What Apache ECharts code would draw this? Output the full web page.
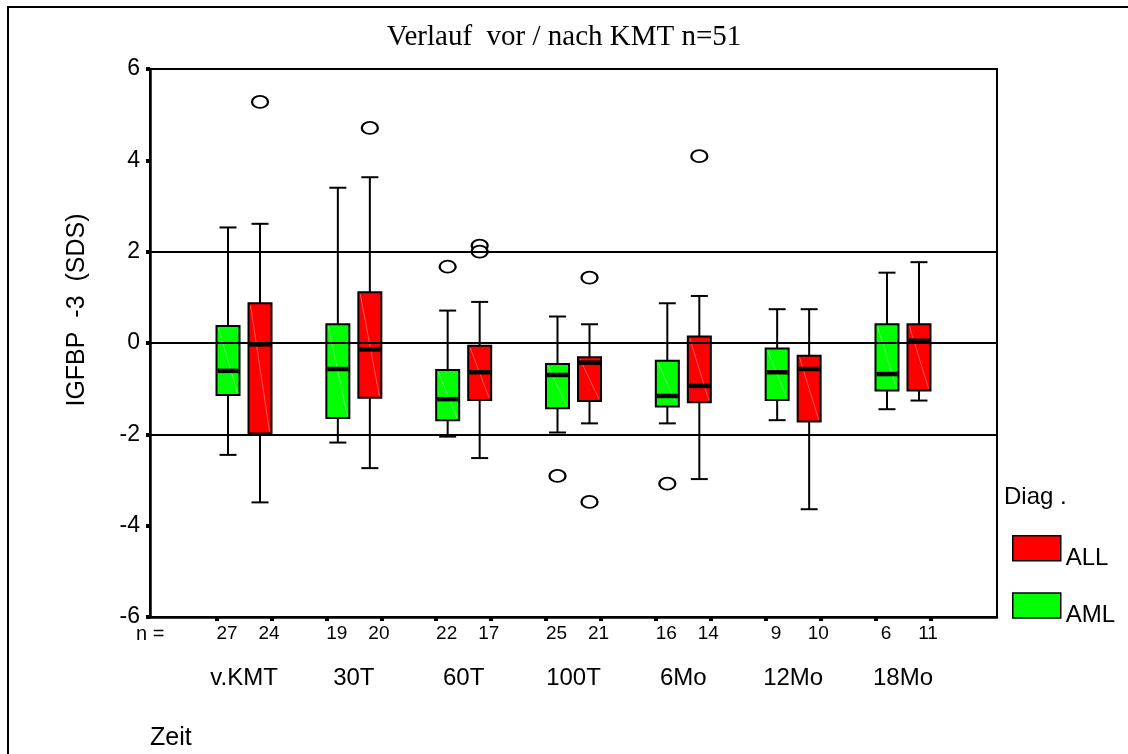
<!DOCTYPE html>
<html>
<head>
<meta charset="utf-8">
<title>Verlauf vor / nach KMT</title>
<script src="https://cdn.jsdelivr.net/npm/echarts@6/dist/echarts.min.js"></script>
<style>
  html, body { margin: 0; padding: 0; background: #fff; }
  #chart { width: 1128px; height: 754px; }
</style>
</head>
<body>
<div id="chart"></div>
<script>
// Zeitpunkte
const groups = ['v.KMT', '30T', '60T', '100T', '6Mo', '12Mo', '18Mo']
// Fallzahlen je Diagnose
const nAML = [27, 19, 22, 25, 16, 9, 6]
const nALL = [24, 20, 17, 21, 14, 10, 11]
// [unterer Whisker, Q1, Median, Q3, oberer Whisker]
const amlBoxes = [
  [-2.45, -1.14, -0.61, 0.37, 2.53],
  [-2.18, -1.64, -0.57, 0.41, 3.40],
  [-2.05, -1.69, -1.23, -0.59, 0.71],
  [-1.96, -1.43, -0.70, -0.46, 0.58],
  [-1.76, -1.39, -1.16, -0.39, 0.87],
  [-1.69, -1.25, -0.64, -0.12, 0.74],
  [-1.45, -1.04, -0.68, 0.41, 1.54]
]
const allBoxes = [
  [-3.49, -1.98, -0.03, 0.87, 2.61],
  [-2.74, -1.20, -0.14, 1.11, 3.63],
  [-2.52, -1.25, -0.64, -0.06, 0.90],
  [-1.76, -1.27, -0.43, -0.31, 0.41],
  [-2.98, -1.30, -0.94, 0.14, 1.03],
  [-3.64, -1.72, -0.57, -0.28, 0.74],
  [-1.26, -1.04, 0.05, 0.41, 1.77]
]
// Ausreisser: [Zeitpunkt-Index, Wert]
const amlOutliers = [[2, 1.67], [3, -2.91], [4, -3.08]]
const allOutliers = [[0, 5.28], [1, 4.71], [2, 2.13], [2, 2.00], [3, 1.43], [3, -3.48], [4, 4.09]]
// Referenzlinien
const refLines = [2, 0, -2]
const yTicks = {min: -6, max: 6, interval: 2}

const GREEN = '#00ff00'
const RED = '#ff0000'
const SANS = 'Arial, "Liberation Sans", sans-serif'
const SERIF = '"Times New Roman", "Liberation Serif", serif'
const BOX_OFF = 0.1457 // Versatz der Boxen innerhalb einer Gruppe
const TICK_OFF = 0.25 // Versatz der n-Ticks
const LABEL_OFF_AML = -0.155 // n-Beschriftung sitzt nicht genau auf dem Tick
const LABEL_OFF_ALL = 0.228

function boxRender (off) {
  return function (params, api) {
    const x = api.value(0) + off
    const pLow = api.coord([x, api.value(1)])
    const pQ1 = api.coord([x, api.value(2)])
    const pMed = api.coord([x, api.value(3)])
    const pQ3 = api.coord([x, api.value(4)])
    const pHigh = api.coord([x, api.value(5)])
    const cx = pLow[0]
    const hw = 11.5
    const cap = 8.5
    const color = api.visual('color')
    const ln = {stroke: '#000', lineWidth: 2}
    return {
      type: 'group',
      children: [
        {type: 'line', shape: {x1: cx, y1: pHigh[1], x2: cx, y2: pQ3[1]}, style: ln},
        {type: 'line', shape: {x1: cx, y1: pQ1[1], x2: cx, y2: pLow[1]}, style: ln},
        {type: 'line', shape: {x1: cx - cap, y1: pHigh[1], x2: cx + cap, y2: pHigh[1]}, style: ln},
        {type: 'line', shape: {x1: cx - cap, y1: pLow[1], x2: cx + cap, y2: pLow[1]}, style: ln},
        {type: 'rect', shape: {x: cx - hw, y: pQ3[1], width: hw * 2, height: pQ1[1] - pQ3[1]},
          style: {fill: color, stroke: '#000', lineWidth: 2}},
        // heller Diagonalstrich wie im Original
        {type: 'line', shape: {x1: cx - hw + 2, y1: pQ3[1] + 2, x2: cx + hw - 2, y2: pQ1[1] - 2},
          style: {stroke: 'rgba(255,255,255,0.35)', lineWidth: 1}},
        {type: 'line', shape: {x1: cx - hw + 1, y1: pMed[1], x2: cx + hw - 1, y2: pMed[1]},
          style: {stroke: '#000', lineWidth: 4.5}}
      ]
    }
  }
}

function boxSeries (name, boxes, off, color) {
  return {
    name: name,
    type: 'custom',
    renderItem: boxRender(off),
    itemStyle: {color: color, borderColor: '#000', borderWidth: 1.5},
    encode: {x: 0, y: [1, 2, 3, 4, 5]},
    data: boxes.map((b, i) => [i].concat(b)),
    z: 3
  }
}

function outlierSeries (name, pts, off) {
  return {
    name: name + ' Ausreisser',
    type: 'scatter',
    symbol: 'circle',
    symbolSize: [16, 12],
    itemStyle: {color: '#fff', borderColor: '#000', borderWidth: 2, opacity: 1},
    data: pts.map(p => [p[0] + off, p[1]]),
    z: 4
  }
}

const chart = echarts.init(document.getElementById('chart'))

const xMin = -0.856
const xMax = 6.856
const nTickValues = []
const nLabelValues = []
groups.forEach((g, i) => {
  nTickValues.push(i - TICK_OFF, i + TICK_OFF)
  nLabelValues.push(i + LABEL_OFF_AML, i + LABEL_OFF_ALL)
})

const option = {
  animation: false,
  backgroundColor: '#fff',
  grid: {
    left: 150, top: 69, right: 131, bottom: 137,
    show: true, borderColor: '#000', borderWidth: 2, backgroundColor: 'transparent'
  },
  legend: {
    data: ['ALL', 'AML'],
    orient: 'vertical',
    left: 1012,
    top: 535,
    icon: 'rect',
    itemWidth: 48,
    itemHeight: 25,
    itemGap: 22,
    itemStyle: {borderColor: '#000', borderWidth: 1.5},
    selectedMode: false,
    formatter: '{t|{name}}',
    textStyle: {
      color: '#000',
      rich: {t: {fontSize: 24, fontFamily: SANS, color: '#000', padding: [20, 0, 0, 0]}}
    },
    padding: 0
  },
  xAxis: [
    {
      type: 'value', min: xMin, max: xMax,
      axisLine: {show: true, onZero: false, lineStyle: {color: '#000', width: 2.5}},
      axisTick: {show: true, length: 4, customValues: nTickValues, lineStyle: {color: '#000', width: 4}},
      axisLabel: {
        show: true, customValues: nLabelValues, margin: 7,
        fontSize: 19, color: '#000', fontFamily: SANS,
        formatter: function (v) {
          const i = Math.round(v)
          return v < i ? String(nAML[i]) : String(nALL[i])
        }
      },
      splitLine: {show: false}
    },
    {
      type: 'value', min: xMin, max: xMax, position: 'bottom', offset: 41,
      axisLine: {show: false},
      axisTick: {show: false},
      axisLabel: {
        show: true, customValues: groups.map((g, i) => i), margin: 8,
        fontSize: 24, color: '#000', fontFamily: SANS,
        formatter: function (v) { return groups[Math.round(v)] }
      },
      splitLine: {show: false}
    }
  ],
  yAxis: {
    type: 'value', min: yTicks.min, max: yTicks.max, interval: yTicks.interval,
    axisLine: {show: true, onZero: false, lineStyle: {color: '#000', width: 2.5}},
    axisTick: {show: true, length: 4, lineStyle: {color: '#000', width: 4}},
    axisLabel: {fontSize: 23, color: '#000', fontFamily: SANS, margin: 10},
    splitLine: {show: false}
  },
  graphic: [
    {type: 'rect', shape: {x: 8, y: 7, width: 1200, height: 800}, style: {fill: 'none', stroke: '#000', lineWidth: 2}, silent: true},
    {type: 'text', x: 564, y: 37, style: {text: 'Verlauf  vor / nach KMT n=51', font: '29px ' + SERIF, fill: '#000', textAlign: 'center', textVerticalAlign: 'middle'}},
    {type: 'text', x: 77, y: 310, rotation: Math.PI / 2, style: {text: 'IGFBP  -3  (SDS)', font: '25px ' + SANS, fill: '#000', textAlign: 'center', textVerticalAlign: 'middle'}},
    {type: 'text', x: 136, y: 634, style: {text: 'n =', font: '20px ' + SANS, fill: '#000', textAlign: 'left', textVerticalAlign: 'middle'}},
    {type: 'text', x: 1004, y: 497, style: {text: 'Diag .', font: '24px ' + SANS, fill: '#000', textAlign: 'left', textVerticalAlign: 'middle'}},
    {type: 'text', x: 150, y: 738, style: {text: 'Zeit', font: '25px ' + SANS, fill: '#000', textAlign: 'left', textVerticalAlign: 'middle'}}
  ],
  series: [
    boxSeries('ALL', allBoxes, BOX_OFF, RED),
    boxSeries('AML', amlBoxes, -BOX_OFF, GREEN),
    outlierSeries('ALL', allOutliers, BOX_OFF),
    outlierSeries('AML', amlOutliers, -BOX_OFF),
    {
      name: 'Referenz',
      type: 'line',
      data: [],
      z: 5,
      markLine: {
        silent: true,
        symbol: 'none',
        label: {show: false},
        lineStyle: {color: '#000', width: 2, type: 'solid'},
        emphasis: {disabled: true},
        data: refLines.map(v => ({yAxis: v}))
      }
    }
  ]
}

chart.setOption(option)
</script>
</body>
</html>
